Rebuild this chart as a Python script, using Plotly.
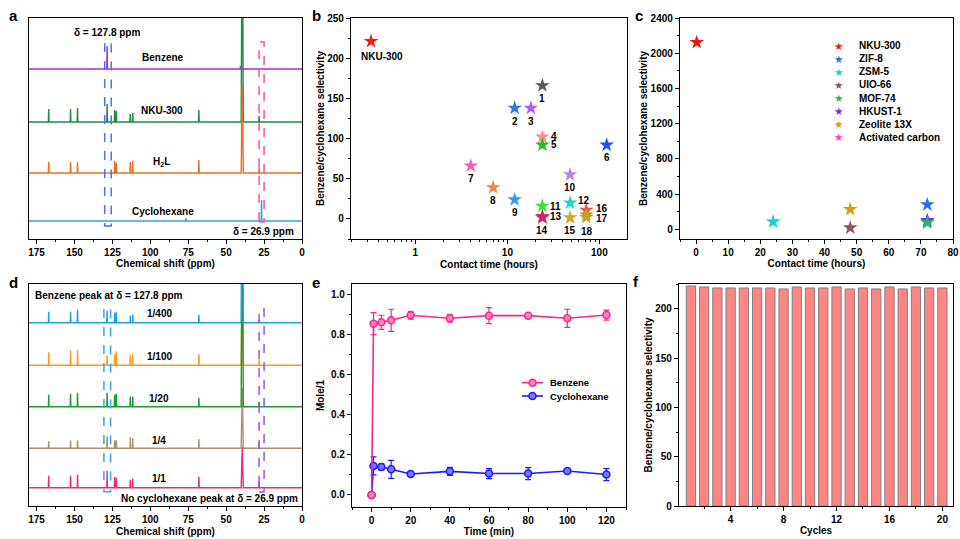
import math
import plotly.graph_objects as go

W, H = 960, 539
FONT = "Liberation Sans, Arial, sans-serif"

# ---------------- DATA ----------------
# Panel a: 13C NMR stick spectra (ppm, relative intensity)
a_benzene_ppm = [128.5, 40.6]
a_benzene_int = [23, 3]
a_nku_ppm = [167.0, 152.6, 148.0, 128.5, 123.5, 122.4, 113.2, 111.6, 68.0, 39.4, 28.3]
a_nku_int = [13, 13, 14, 18, 12, 11, 8, 9, 12, 230, 6]
a_h2l_ppm = [167.0, 152.6, 148.0, 123.5, 122.4, 113.2, 111.6, 68.0, 39.4, 28.3]
a_h2l_int = [11, 11, 11, 12, 10, 11, 12, 13, 88, 6]
a_cyc_ppm = [76.5, 26.7]
a_cyc_int = [3, 21]
benzene_shift = 127.8
cyclohexane_shift = 26.9

# Panel b: selectivity vs contact time (log)
b_labels = ["NKU-300", "1", "2", "3", "4", "5", "6", "7", "8", "9", "10",
            "11", "12", "13", "14", "15", "16", "17", "18"]
b_time = [0.33, 24, 12, 18, 24, 24, 120, 4, 7, 12, 48, 24, 48, 24, 24, 48, 72, 72, 72]
b_sel = [221, 166, 138, 138, 102, 92, 92, 66, 39, 24, 55, 16, 20, 3, 1.5, 1.5, 11, 5, 2]

# Panel c: comparison with common adsorbents
c_names = ["NKU-300", "ZIF-8", "ZSM-5", "UIO-66", "MOF-74", "HKUST-1", "Zeolite 13X", "Activated carbon"]
c_time = [0.2, 72, 24, 48, 72, 72, 48, 72]
c_sel = [2123, 280, 86, 18, 75, 102, 227, 90]

# Panel d: spectra for different benzene/cyclohexane ratios
d_ratios = ["1/400", "1/100", "1/20", "1/4", "1/1"]
d_ppm = [167.0, 152.6, 148.0, 128.5, 123.5, 122.4, 113.2, 111.6, 68.0, 39.4, 28.3]
d_int_400 = [11, 11, 13, 12, 10, 11, 7, 8, 8, 230, 3]
d_int_100 = [13, 15, 15, 10, 11, 14, 10, 11, 11, 100, 6]
d_int_20 = [12, 13, 14, 14, 12, 13, 10, 10, 9, 230, 5]
d_int_4 = [7, 8, 8, 12, 8, 8, 11, 10, 9, 60, 6]
d_int_1 = [12, 12, 13, 17, 11, 10, 8, 9, 11, 41, 6]

# Panel e: time-dependent uptake
e_series = ["Benzene", "Cyclohexane"]
e_time = [0, 1, 5, 10, 20, 40, 60, 80, 100, 120]
e_benz = [0, 0.855, 0.862, 0.872, 0.897, 0.882, 0.895, 0.895, 0.882, 0.898]
e_benz_err = [0, 0.055, 0.035, 0.055, 0.02, 0.02, 0.04, 0.01, 0.045, 0.025]
e_cyc = [0, 0.145, 0.14, 0.128, 0.105, 0.118, 0.107, 0.107, 0.12, 0.102]
e_cyc_err = [0, 0.045, 0.015, 0.045, 0.012, 0.02, 0.025, 0.03, 0.012, 0.03]

# Panel f: recycling
f_cycles = list(range(1, 21))
f_sel = [223, 222, 221, 221, 221, 221, 221, 220, 222, 221,
         221, 222, 220, 221, 220, 222, 220, 222, 221, 221]

# ---------------- STYLE ----------------
b_colors = ["#ff1a1a", "#5a5a5a", "#2a78e4", "#b35cf5", "#ff8c8c", "#2db82d", "#1f4fff",
            "#ff5cb8", "#f5873a", "#2f9bff", "#b584e8", "#2ee82e", "#22d3d3", "#e0246e",
            "#c8286e", "#d9a521", "#ff4a4a", "#a8a61f", "#c9a227"]
# label offsets (px) relative to star: (dx, dy)
b_label_off = {"NKU-300": (11, -15), "1": (0, -13), "2": (0, -13), "3": (0, -13),
               "4": (12, 0), "5": (12, 0), "6": (0, -13), "7": (0, -13), "8": (0, -13),
               "9": (0, -13), "10": (0, -13), "11": (13, 0), "12": (14, 2), "13": (14, 0),
               "14": (0, -13), "15": (0, -13), "16": (16, 2), "17": (16, -4), "18": (1, -14)}
c_colors = ["#ff1010", "#2070ee", "#20d0d0", "#8b5a5a", "#30b070", "#8020ff", "#d4a010", "#ff40c0"]
e_colors = ["#f5288c", "#1a1aff"]
e_fill = ["#ff80c0", "#7a7aff"]


def px(x):
    return x / W


def py(y):
    return 1 - y / H


def stick(ppm, inten, base):
    xs, ys = [182], [base]
    for p, h in sorted(zip(ppm, inten), reverse=True):
        hw = 0.7 if h > 30 else 0.2
        xs += [p + hw, p, p - hw]
        ys += [base, base + h, base]
    xs.append(-2)
    ys.append(base)
    return xs, ys


fig = go.Figure()

# ---- panel a ----
a_specs = [
    (a_benzene_ppm, a_benzene_int, 169.5, "#9b30d9"),
    (a_cyc_ppm, a_cyc_int, 17.5, "#2aa7e6"),
    (a_nku_ppm, a_nku_int, 116.5, "#1e8c3a"),
    (a_h2l_ppm, a_h2l_int, 65.5, "#f26b1d"),
]
for ppm, inten, base, col in a_specs:
    xs, ys = stick(ppm, inten, base)
    fig.add_trace(go.Scatter(x=xs, y=ys, mode="lines", line=dict(color=col, width=1.4),
                             showlegend=False, hoverinfo="skip", xaxis="x", yaxis="y"))

# ---- panel d ----
d_specs = [
    (d_int_1, 18.3, "#f0287a"),
    (d_int_4, 57.7, "#b0906c"),
    (d_int_100, 140.7, "#ff9a1a"),
    (d_int_20, 99.3, "#1e9a2a"),
    (d_int_400, 183.3, "#1ea0e6"),
]
for inten, base, col in d_specs:
    xs, ys = stick(d_ppm, inten, base)
    fig.add_trace(go.Scatter(x=xs, y=ys, mode="lines", line=dict(color=col, width=1.4),
                             showlegend=False, hoverinfo="skip", xaxis="x4", yaxis="y4"))

# ---- panel b ----
for i, lab in enumerate(b_labels):
    fig.add_trace(go.Scatter(x=[b_time[i]], y=[b_sel[i]], mode="markers", name=lab,
                             marker=dict(symbol="star", size=11, color=b_colors[i],
                                         line=dict(width=0)),
                             showlegend=False, xaxis="x2", yaxis="y2"))

# ---- panel c ----
draw_order = [7, 0, 1, 2, 3, 5, 4, 6]
for i in draw_order:
    fig.add_trace(go.Scatter(x=[c_time[i]], y=[c_sel[i]], mode="markers", name=c_names[i],
                             marker=dict(symbol="star", size=11, color=c_colors[i], line=dict(width=0)),
                             showlegend=False, xaxis="x3", yaxis="y3"))

# ---- panel e ----
for vals, errs, k in [(e_cyc, e_cyc_err, 1), (e_benz, e_benz_err, 0)]:
    fig.add_trace(go.Scatter(x=e_time, y=vals, mode="lines+markers", name=e_series[k],
                             line=dict(color=e_colors[k], width=1.6),
                             marker=dict(symbol="circle", size=7, color=e_fill[k],
                                         line=dict(color=e_colors[k], width=1.5)),
                             error_y=dict(type="data", array=errs, color=e_colors[k],
                                          thickness=1.2, width=3),
                             showlegend=False, xaxis="x5", yaxis="y5"))

# ---- panel f ----
fig.add_trace(go.Bar(x=f_cycles, y=f_sel, width=0.7,
                     marker=dict(color="#ff8585", line=dict(color="#808080", width=1)),
                     showlegend=False, xaxis="x6", yaxis="y6"))

# ---------------- AXES ----------------
tickfont = dict(size=10, family=FONT, color="black", weight="bold")
titlefont = dict(size=10, family=FONT, color="black", weight="bold")


def ax(domain, anchor, **kw):
    d = dict(domain=domain, anchor=anchor, showline=True, linecolor="black", linewidth=1.3,
             mirror=True, ticks="outside", ticklen=4, tickwidth=1, tickcolor="black",
             showgrid=False, zeroline=False, tickfont=tickfont, automargin=False)
    d.update(kw)
    return d


def dx(l, r):
    return [l / W, r / W]


def dy(t, b):
    return [1 - b / H, 1 - t / H]


minor = dict(ticklen=2, tickcolor="black", showgrid=False)

layout = dict(
    width=W, height=H, margin=dict(l=0, r=0, t=0, b=0, autoexpand=False),
    paper_bgcolor="white", plot_bgcolor="white", showlegend=False,
    font=dict(family=FONT, size=10, color="black", weight="bold"),
    # a
    xaxis=ax(dx(29, 302), "y", range=[180, 0], dtick=25, tick0=0, minor=dict(dtick=12.5, **minor),
             title=dict(text="Chemical shift (ppm)", font=titlefont, standoff=3)),
    yaxis=ax(dy(18, 238.5), "x", range=[0, 220.5], ticks="", showticklabels=False),
    # b
    xaxis2=ax(dx(351, 627), "y2", type="log", range=[-0.7, 2.3], dtick=1,
              minor=dict(ticklen=2, tickcolor="black", dtick="D1", showgrid=False),
              title=dict(text="Contact time (hours)", font=titlefont, standoff=3)),
    yaxis2=ax(dy(18, 239), "x2", range=[-25, 250], dtick=50, minor=dict(dtick=25, **minor),
              title=dict(text="Benzene/cyclohexane selectivity", font=titlefont, standoff=0)),
    # c
    xaxis3=ax(dx(680, 953), "y3", range=[-5, 80], dtick=10, minor=dict(dtick=5, **minor),
              title=dict(text="Contact time (hours)", font=titlefont, standoff=2)),
    yaxis3=ax(dy(18, 239), "x3", range=[-110, 2400], dtick=400, tick0=0, minor=dict(dtick=200, **minor),
              title=dict(text="Benzene/cyclohexane selectivity", font=titlefont, standoff=1)),
    # d
    xaxis4=ax(dx(29, 302), "y4", range=[180, 0], dtick=25, tick0=0, minor=dict(dtick=12.5, **minor),
              title=dict(text="Chemical shift (ppm)", font=titlefont, standoff=3)),
    yaxis4=ax(dy(284, 506), "x4", range=[0, 222], ticks="", showticklabels=False),
    # e
    xaxis5=ax(dx(352, 626), "y5", range=[-10, 130], dtick=20, tick0=0, minor=dict(dtick=10, **minor),
              title=dict(text="Time (min)", font=titlefont, standoff=1)),
    yaxis5=ax(dy(284, 507), "x5", range=[-0.06, 1.053], dtick=0.2, tick0=0, tickformat=".1f",
              minor=dict(dtick=0.1, **minor),
              title=dict(text="Mole/1", font=titlefont, standoff=4)),
    # f
    xaxis6=ax(dx(679, 953), "y6", range=[0.1, 20.8], dtick=4, tick0=0, minor=dict(dtick=2, **minor),
              title=dict(text="Cycles", font=titlefont, standoff=2)),
    yaxis6=ax(dy(284, 506), "x6", range=[0, 225], dtick=50, minor=dict(dtick=25, **minor),
              title=dict(text="Benzene/cyclohexane selectivity", font=titlefont, standoff=0)),
)
fig.update_layout(**layout)

# ---------------- SHAPES ----------------
shapes = [
    dict(type="rect", xref="x", yref="y", x0=benzene_shift + 2.3, x1=benzene_shift - 2.0,
         y0=12.5, y1=196.5, line=dict(color="#4a6cff", width=1.5, dash="dash")),
    dict(type="rect", xref="x", yref="y", x0=cyclohexane_shift + 1.4, x1=cyclohexane_shift - 1.9,
         y0=16.5, y1=196.5, line=dict(color="#ff4fa0", width=1.5, dash="dash")),
    dict(type="rect", xref="x4", yref="y4", x0=benzene_shift + 2.8, x1=benzene_shift - 1.6,
         y0=14.3, y1=198, line=dict(color="#3aa0ff", width=1.5, dash="dash")),
    dict(type="rect", xref="x4", yref="y4", x0=cyclohexane_shift + 1.4, x1=cyclohexane_shift - 1.9,
         y0=14, y1=197, line=dict(color="#a050e0", width=1.5, dash="dash")),
]
# legend symbols for panel e (line + circle)
for k, yy in enumerate([382.7, 396]):
    shapes.append(dict(type="line", xref="paper", yref="paper", x0=px(522), x1=px(543),
                       y0=py(yy), y1=py(yy), line=dict(color=e_colors[k], width=1.6)))
    shapes.append(dict(type="circle", xref="paper", yref="paper", x0=px(529), x1=px(536),
                       y0=py(yy + 3.5), y1=py(yy - 3.5), fillcolor=e_fill[k],
                       line=dict(color=e_colors[k], width=1.5)))
fig.update_layout(shapes=shapes)

# ---------------- ANNOTATIONS ----------------
ann = []


def paper_text(x, y, text, size=10, xanchor="center", color="black", family=FONT):
    ann.append(dict(x=px(x), y=py(y), xref="paper", yref="paper", text=text, showarrow=False,
                    xanchor=xanchor, yanchor="middle",
                    font=dict(size=size, family=family, color=color, weight="bold")))


# panel letters
for lt, x, y in [("a", 13, 15), ("b", 316, 15), ("c", 639, 15),
                 ("d", 13, 282), ("e", 316, 282), ("f", 636, 281)]:
    paper_text(x, y, lt, size=15)

# panel a labels
paper_text(107, 33, "δ = 127.8 ppm")
paper_text(163, 58, "Benzene")
paper_text(162, 110, "NKU-300")
paper_text(161, 162, "H<sub>2</sub>L")
paper_text(163, 211, "Cyclohexane")
paper_text(263, 232, "δ = 26.9 ppm")

# panel d labels
paper_text(33, 295, "Benzene peak at δ = 127.8 ppm", xanchor="left")
for lab, y in zip(d_ratios, [313, 356.5, 398, 440, 478]):
    paper_text(159, y, lab)
paper_text(300, 498, "No cyclohexane peak at δ = 26.9 ppm", xanchor="right")

# panel c legend (compact rows)
for i, name in enumerate(c_names):
    yy = 45.7 + 13.1 * i
    paper_text(838, yy, "★", size=10.5, color=c_colors[i], family="DejaVu Sans")
    paper_text(857, yy, name, xanchor="left")

# panel e legend text
for k, yy in enumerate([382.7, 396]):
    paper_text(548, yy, e_series[k], size=9.5, xanchor="left")

# panel b point labels
for i, lab in enumerate(b_labels):
    dxo, dyo = b_label_off[lab]
    ann.append(dict(x=math.log10(b_time[i]), y=b_sel[i], xref="x2", yref="y2", text=lab,
                    showarrow=False, xshift=dxo, yshift=dyo, xanchor="center", yanchor="middle",
                    font=dict(size=10, family=FONT, color="black", weight="bold")))

fig.update_layout(annotations=ann)

fig.write_html("out.html", config={"displayModeBar": False},
               post_script="document.body.style.margin='0';document.body.style.padding='0';")
